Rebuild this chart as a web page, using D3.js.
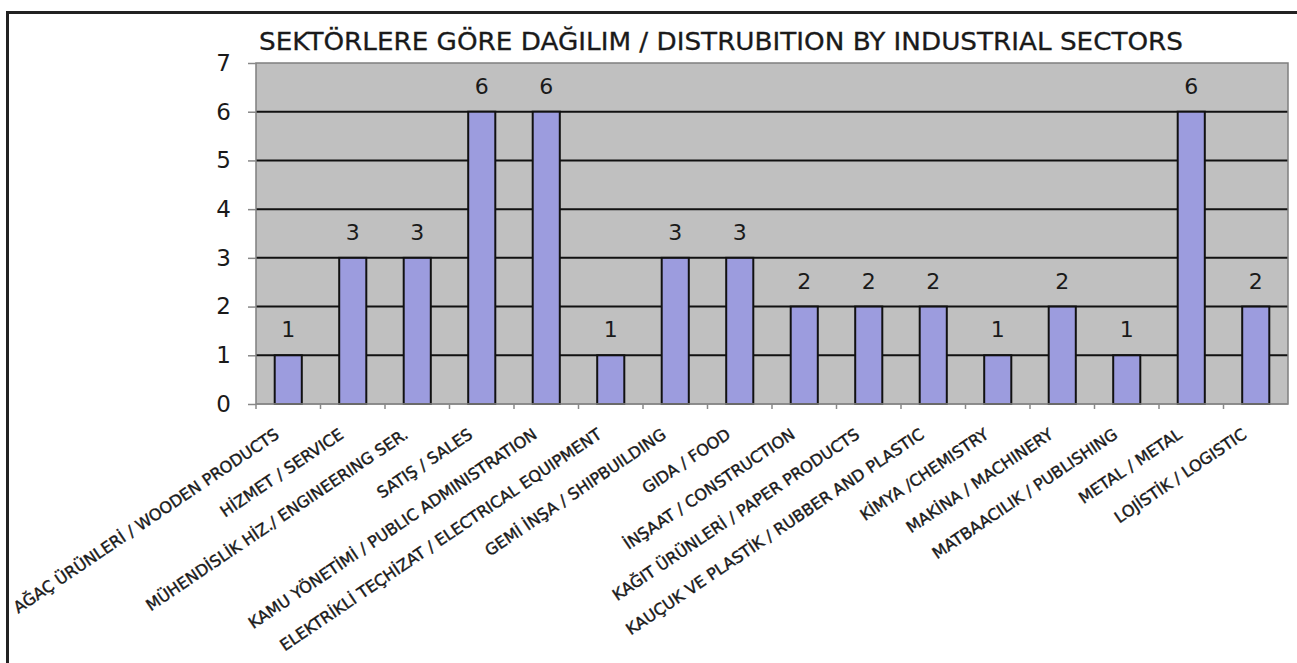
<!DOCTYPE html>
<html>
<head>
<meta charset="utf-8">
<script src="https://cdn.jsdelivr.net/npm/d3@7"></script>
<style>
  body { margin: 0; background: #fff; }
  text { font-family: "DejaVu Sans", Verdana, sans-serif; fill: #1a1a1a; }
</style>
</head>
<body>
<div id="chart"></div>
<script>
var title = "SEKTÖRLERE GÖRE DAĞILIM / DISTRUBITION BY INDUSTRIAL SECTORS";

var sectors = [
  "AĞAÇ ÜRÜNLERİ / WOODEN PRODUCTS",
  "HİZMET / SERVICE",
  "MÜHENDİSLİK HİZ./ ENGINEERING SER.",
  "SATIŞ / SALES",
  "KAMU YÖNETİMİ / PUBLIC ADMINISTRATION",
  "ELEKTRİKLİ TEÇHİZAT / ELECTRICAL EQUIPMENT",
  "GEMİ İNŞA / SHIPBUILDING",
  "GIDA / FOOD",
  "İNŞAAT / CONSTRUCTION",
  "KAĞIT ÜRÜNLERİ / PAPER PRODUCTS",
  "KAUÇUK VE PLASTİK / RUBBER AND PLASTIC",
  "KİMYA /CHEMISTRY",
  "MAKİNA / MACHINERY",
  "MATBAACILIK / PUBLISHING",
  "METAL / METAL",
  "LOJİSTİK / LOGISTIC"
];
var counts = [1, 3, 3, 6, 6, 1, 3, 3, 2, 2, 2, 1, 2, 1, 6, 2];
var yTicks = [0, 1, 2, 3, 4, 5, 6, 7];

var W = 1297, H = 663;
var margin = {top: 63, right: 9, bottom: 259, left: 256},
    width = W - margin.left - margin.right,
    height = H - margin.top - margin.bottom;

var svg = d3.select("#chart").append("svg")
    .attr("width", W)
    .attr("height", H);

// outer frame (only top and left edges visible)
svg.append("path")
    .attr("d", "M7.5," + H + "V12.5H" + W)
    .attr("fill", "none")
    .attr("stroke", "#222")
    .attr("stroke-width", 3);

svg.append("text")
    .attr("x", 259)
    .attr("y", 50)
    .attr("font-size", 24)
    .attr("textLength", 924)
    .attr("lengthAdjust", "spacingAndGlyphs")
    .attr("stroke", "#1a1a1a")
    .attr("stroke-width", 0.3)
    .text(title);

var g = svg.append("g")
    .attr("transform", "translate(" + margin.left + "," + margin.top + ")");

var x = d3.scaleBand()
    .domain(sectors)
    .range([0, width]);
var y = d3.scaleLinear()
    .domain([0, 7])
    .range([height, 0]);

g.append("rect")
    .attr("width", width)
    .attr("height", height)
    .attr("fill", "#c0c0c0");

// gridlines
g.append("g").selectAll("line")
    .data(yTicks.filter(function(d) { return d > 0 && d < 7; }))
  .enter().append("line")
    .attr("x1", 0).attr("x2", width)
    .attr("y1", function(d) { return y(d); })
    .attr("y2", function(d) { return y(d); })
    .attr("stroke", "#111")
    .attr("stroke-width", 2);

g.append("rect")
    .attr("width", width)
    .attr("height", height)
    .attr("fill", "none")
    .attr("stroke", "#7f7f7f")
    .attr("stroke-width", 1.5);

var barW = x.bandwidth() * 0.42;

g.append("g").selectAll("rect")
    .data(counts)
  .enter().append("rect")
    .attr("x", function(d, i) { return x(sectors[i]) + (x.bandwidth() - barW) / 2; })
    .attr("width", barW)
    .attr("y", function(d) { return y(d); })
    .attr("height", function(d) { return height - y(d); })
    .attr("fill", "#9c9cde")
    .attr("stroke", "#111")
    .attr("stroke-width", 2);

// value labels
g.append("g").selectAll("text")
    .data(counts)
  .enter().append("text")
    .attr("x", function(d, i) { return x(sectors[i]) + x.bandwidth() / 2; })
    .attr("y", function(d) { return y(d) - 18; })
    .attr("text-anchor", "middle")
    .attr("font-size", 22)
    .text(function(d) { return d; });

// y axis
var yAxis = g.append("g")
    .call(d3.axisLeft(y).tickValues(yTicks).tickFormat(d3.format("d"))
      .tickSize(8).tickPadding(17));
yAxis.select(".domain").remove();
yAxis.selectAll(".tick line").attr("stroke", "#888").attr("stroke-width", 1.5);
yAxis.selectAll(".tick text")
    .attr("font-size", 23)
    .attr("font-family", "DejaVu Sans, sans-serif")
    .attr("fill", "#1a1a1a");

// x axis: ticks at category boundaries
var xg = g.append("g").attr("transform", "translate(0," + height + ")");
xg.append("line")
    .attr("x1", 0).attr("x2", width)
    .attr("stroke", "#888").attr("stroke-width", 1.5);
xg.selectAll(".bnd")
    .data(sectors)
  .enter().append("line")
    .attr("x1", function(d) { return x(d); })
    .attr("x2", function(d) { return x(d); })
    .attr("y1", 0).attr("y2", 5)
    .attr("stroke", "#888").attr("stroke-width", 1.5);

xg.selectAll(".lbl")
    .data(sectors)
  .enter().append("text")
    .attr("transform", function(d) {
      return "translate(" + (x(d) + x.bandwidth() / 2 - 8) + ",33) rotate(-34)";
    })
    .attr("text-anchor", "end")
    .attr("font-size", 16)
    .attr("stroke", "#1a1a1a")
    .attr("stroke-width", 0.4)
    .text(function(d) { return d; });
</script>
</body>
</html>
